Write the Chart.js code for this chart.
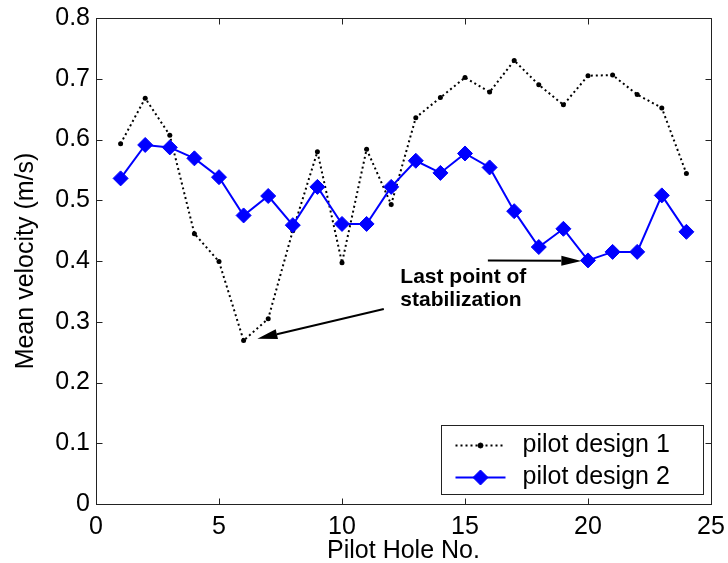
<!DOCTYPE html>
<html><head><meta charset="utf-8">
<script src="https://cdn.jsdelivr.net/npm/chart.js@4.4.1/dist/chart.umd.min.js"></script>
<style>html,body{margin:0;padding:0;background:#fff}#wrap{width:728px;height:563px;position:relative}</style>
</head><body><div id="wrap"><canvas id="c"></canvas></div>
<script>
// ---- data ----
const holeNumbers = [1,2,3,4,5,6,7,8,9,10,11,12,13,14,15,16,17,18,19,20,21,22,23,24];
const design1 = [0.593,0.668,0.607,0.445,0.399,0.269,0.305,0.450,0.580,0.397,0.584,0.493,0.636,0.669,0.702,0.678,0.730,0.690,0.657,0.705,0.706,0.674,0.652,0.544];
const design2 = [0.536,0.591,0.587,0.569,0.538,0.475,0.507,0.459,0.522,0.461,0.461,0.522,0.565,0.545,0.577,0.554,0.482,0.423,0.453,0.401,0.415,0.415,0.508,0.448];
const seriesNames = ['pilot design 1','pilot design 2'];
const xTickValues = [0,5,10,15,20,25];
const xTickLabels = ['0','5','10','15','20','25'];
const yTickValues = [0,0.1,0.2,0.3,0.4,0.5,0.6,0.7,0.8];
const yTickLabels = ['0','0.1','0.2','0.3','0.4','0.5','0.6','0.7','0.8'];
const xTitle = 'Pilot Hole No.';
const yTitle = 'Mean velocity (m/s)';
const noteLines = ['Last point of','stabilization'];
// annotation anchors in data coordinates
const noteAnchor = {x: 12.37, y: 0.3645, y2: 0.3255};
const arrows = [
  {from:{x:11.70,y:0.321}, to:{x:6.56,y:0.272}},
  {from:{x:15.93,y:0.401}, to:{x:19.73,y:0.400}}
];

const FONT = '"Liberation Sans", Arial, Helvetica, sans-serif';
Chart.defaults.font.family = FONT;
Chart.defaults.color = '#000';

function arrow(ctx, x1, y1, x2, y2){
  const ang = Math.atan2(y2-y1, x2-x1);
  const L = 20, W = 5;
  const bx = x2 - L*Math.cos(ang), by = y2 - L*Math.sin(ang);
  ctx.beginPath(); ctx.moveTo(x1,y1); ctx.lineTo(bx,by); ctx.stroke();
  ctx.beginPath();
  ctx.moveTo(x2,y2);
  ctx.lineTo(bx + W*Math.sin(ang), by - W*Math.cos(ang));
  ctx.lineTo(bx - W*Math.sin(ang), by + W*Math.cos(ang));
  ctx.closePath(); ctx.fill();
}

const decorPlugin = {
  id: 'decor',
  afterDatasetsDraw(chart){
    const {ctx, chartArea:a, scales:{x, y}} = chart;
    ctx.save();
    ctx.strokeStyle = '#222'; ctx.lineWidth = 1;
    const L = Math.round(a.left)+0.5, R = Math.round(a.right)+0.5, T = Math.round(a.top)+0.5, B = Math.round(a.bottom)+0.5;
    ctx.beginPath();
    ctx.rect(L, T, R-L, B-T);
    x.ticks.forEach(t=>{const p=Math.round(x.getPixelForValue(t.value))+0.5; ctx.moveTo(p,B); ctx.lineTo(p,B-6); ctx.moveTo(p,T); ctx.lineTo(p,T+6);});
    y.ticks.forEach(t=>{const p=Math.round(y.getPixelForValue(t.value))+0.5; ctx.moveTo(L,p); ctx.lineTo(L+6,p); ctx.moveTo(R,p); ctx.lineTo(R-6,p);});
    ctx.stroke();
    // arrows
    ctx.strokeStyle = '#000'; ctx.fillStyle = '#000'; ctx.lineWidth = 2;
    arrows.forEach(ar=>{
      arrow(ctx, x.getPixelForValue(ar.from.x), y.getPixelForValue(ar.from.y), x.getPixelForValue(ar.to.x), y.getPixelForValue(ar.to.y));
    });
    // note text
    ctx.font = 'bold 21px ' + FONT;
    ctx.textAlign = 'left'; ctx.textBaseline = 'alphabetic';
    ctx.fillText(noteLines[0], x.getPixelForValue(noteAnchor.x), y.getPixelForValue(noteAnchor.y));
    ctx.fillText(noteLines[1], x.getPixelForValue(noteAnchor.x), y.getPixelForValue(noteAnchor.y2));
    // legend box
    const bw = 262, bh = 69;
    const bx = Math.round(a.right - 8.5 - bw) + 0.5, by = Math.round(a.bottom - 10 - bh) + 0.5;
    ctx.fillStyle = '#fff'; ctx.fillRect(bx, by, bw, bh);
    ctx.strokeStyle = '#222'; ctx.lineWidth = 1; ctx.strokeRect(bx, by, bw, bh);
    const rows = [by + 20, by + 52];
    const sx1 = bx + 14, sx2 = bx + 64, mx = bx + 39;
    chart.data.datasets.forEach((ds, i)=>{
      const yy = rows[i];
      ctx.save();
      ctx.strokeStyle = ds.borderColor; ctx.lineWidth = ds.borderWidth;
      ctx.setLineDash(ds.borderDash || []);
      ctx.beginPath(); ctx.moveTo(sx1, yy); ctx.lineTo(sx2, yy); ctx.stroke();
      ctx.setLineDash([]);
      ctx.fillStyle = ds.pointBackgroundColor; ctx.strokeStyle = ds.pointBorderColor; ctx.lineWidth = 1;
      Chart.helpers.drawPoint(ctx, {pointStyle: ds.pointStyle, rotation: 0, radius: ds.pointRadius, borderWidth: 1}, mx, yy);
      ctx.restore();
      ctx.fillStyle = '#000';
      ctx.font = '25px ' + FONT; ctx.textBaseline = 'middle'; ctx.textAlign = 'left';
      ctx.fillText(ds.label, bx + 81, yy);
    });
    ctx.restore();
  }
};

new Chart(document.getElementById('c'), {
  type: 'line',
  data: {
    datasets: [
      {
        label: seriesNames[0],
        data: holeNumbers.map((h,i)=>({x:h, y:design1[i]})),
        borderColor: '#000', borderWidth: 2, borderDash: [2,3],
        pointStyle: 'circle', pointRadius: 2.5, pointBackgroundColor: '#000', pointBorderColor: '#000', pointBorderWidth: 0,
        tension: 0, order: 1
      },
      {
        label: seriesNames[1],
        data: holeNumbers.map((h,i)=>({x:h, y:design2[i]})),
        borderColor: '#0000ff', borderWidth: 2,
        pointStyle: 'rectRot', pointRadius: 7.5, pointBackgroundColor: '#0000ff', pointBorderColor: '#0000ff', pointBorderWidth: 1,
        tension: 0, order: 0
      }
    ]
  },
  options: {
    responsive: true, maintainAspectRatio: false, animation: false,
    layout: {padding: {top: 18, right: 17, left: 0, bottom: 0}},
    plugins: {legend: {display: false}, tooltip: {enabled: false}},
    scales: {
      x: {
        type: 'linear', min: 0, max: 25,
        afterBuildTicks: s => { s.ticks = xTickValues.map(v=>({value:v})); },
        afterFit: s => { s.height = 59; s.paddingLeft = 0; s.paddingRight = 0; },
        ticks: {callback: (v,i)=>xTickLabels[i], font: {size: 25}, color: '#000', padding: 8, maxRotation: 0},
        grid: {display: false, drawTicks: false},
        border: {display: true, color: '#222'},
        title: {display: true, text: xTitle, font: {size: 25}, color: '#000', padding: {top: 0, bottom: -3}}
      },
      y: {
        type: 'linear', min: 0, max: 0.8,
        afterBuildTicks: s => { s.ticks = yTickValues.map(v=>({value:v})); },
        afterFit: s => { s.width = 96; s.paddingTop = 0; s.paddingBottom = 0; },
        ticks: {callback: (v,i)=>yTickLabels[i], font: {size: 25}, color: '#000', padding: 6},
        grid: {display: false, drawTicks: false},
        border: {display: true, color: '#222'},
        title: {display: true, text: yTitle, font: {size: 25}, color: '#000', padding: {top: 11, bottom: 0}}
      }
    }
  },
  plugins: [decorPlugin]
});
</script>
</body></html>
